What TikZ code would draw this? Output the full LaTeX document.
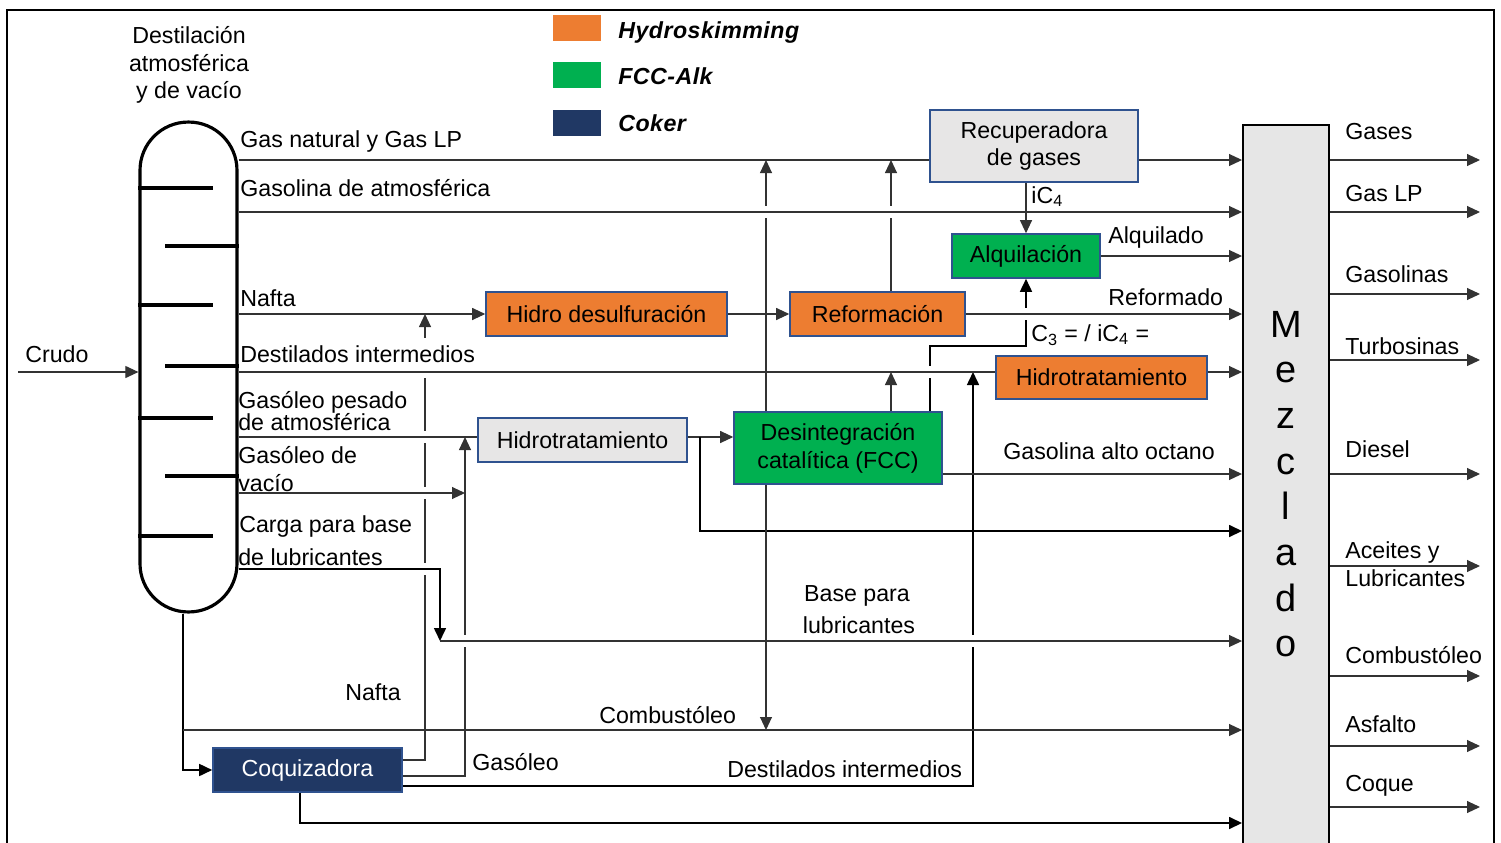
\documentclass[tikz,border=0pt]{standalone}
\usepackage{fontspec}
\setmainfont{Liberation Sans}
\usetikzlibrary{arrows.meta}
\definecolor{orng}{HTML}{ED7D31}
\definecolor{grn}{HTML}{00B050}
\definecolor{navy}{HTML}{203864}
\definecolor{pale}{HTML}{E7E6E6}
\definecolor{edge}{HTML}{2F528F}
\definecolor{mixgray}{HTML}{E6E6E6}
\begin{document}
\begin{tikzpicture}[x=0.02cm,y=-0.02cm,
  font=\fontsize{13.2}{15.8}\selectfont,
  unit/.style={draw=edge, line width=0.9pt, inner sep=0pt, align=center},
  ln/.style={draw=black!80, line width=0.65pt},
  lnk/.style={draw=black, line width=1pt},
  tip/.style={-{Triangle[length=7.4pt,width=6.8pt]}},
  lbl/.style={anchor=base west, inner sep=0pt},
  ctr/.style={anchor=base, inner sep=0pt},
  gap/.style={draw=white, line width=3pt},
  keybox/.style={minimum width=0.96cm, minimum height=0.52cm, inner sep=0pt},
  keytext/.style={lbl, font=\fontsize{13.2}{15.8}\selectfont\bfseries\itshape\addfontfeature{LetterSpace=2}},
]
\useasboundingbox (0,0) rectangle (1501,842);
\fill[white] (0,0) rectangle (1501,842);
\draw[line width=1.1pt] (7,860) -- (7,10) -- (1494,10) -- (1494,860);

% ---- legend ----
\node[keybox, fill=orng] (keyH) at (577,28) {};
\node[keybox, fill=grn]  (keyF) at (577,75) {};
\node[keybox, fill=navy] (keyC) at (577,123) {};
\node[keytext] (keyHt) at (618,38) {Hydroskimming};
\node[keytext] (keyFt) at (618,84) {FCC-Alk};
\node[keytext] (keyCt) at (618,131) {Coker};

% ---- distillation column ----
\node[draw, line width=1.8pt, rounded corners=0.965cm, minimum width=1.94cm,
      minimum height=9.8cm, inner sep=0pt] (col) at (188.5,367) {};
\draw[line width=1.8pt] (col.west |- 0,188) -- ++(75,0);
\draw[line width=1.8pt] (col.east |- 0,246) -- ++(-74,0);
\draw[line width=1.8pt] (col.west |- 0,305) -- ++(75,0);
\draw[line width=1.8pt] (col.east |- 0,366) -- ++(-74,0);
\draw[line width=1.8pt] (col.west |- 0,418) -- ++(75,0);
\draw[line width=1.8pt] (col.east |- 0,476) -- ++(-74,0);
\draw[line width=1.8pt] (col.west |- 0,536) -- ++(75,0);
\node[ctr] (tcolA) at (189,43) {Destilación};
\node[ctr] (tcolB) at (189,71) {atmosférica};
\node[ctr] (tcolC) at (189,98) {y de vacío};

% ---- process units ----
\node[unit, fill=pale, minimum width=4.16cm, minimum height=1.44cm] (rec) at (1034,146)
  {Recuperadora\\de gases};
\node[unit, fill=grn, minimum width=2.96cm, minimum height=0.88cm] (alq) at (1026,256) {Alquilación};
\node[unit, fill=orng, minimum width=4.82cm, minimum height=0.88cm] (hds) at (606.5,314) {Hidro desulfuración};
\node[unit, fill=orng, minimum width=3.5cm, minimum height=0.88cm] (ref) at (877.5,314) {Reformación};
\node[unit, fill=orng, minimum width=4.22cm, minimum height=0.86cm] (hto) at (1101.5,377.5) {Hidrotratamiento};
\node[unit, fill=pale, minimum width=4.18cm, minimum height=0.88cm] (htg) at (582.5,440) {Hidrotratamiento};
\node[unit, fill=grn, minimum width=4.16cm, minimum height=1.44cm] (fcc) at (838,448)
  {Desintegración\\catalítica (FCC)};
\node[unit, fill=navy, text=white, minimum width=3.78cm, minimum height=0.88cm] (coq) at (307.5,770) {Coquizadora};
\node[draw, line width=1.1pt, fill=mixgray, minimum width=1.72cm, minimum height=14.7cm,
      inner sep=0pt] (mez) at (1286,492.5) {};
\foreach \ch [count=\i from 0] in {M,e,z,c,l,a,d,o}
  \node[ctr, font=\fontsize{21.6}{24}\selectfont] (mz\i) at (1286,{337+45.7*\i}) {\ch};

% ---- free ends of connectors ----
\coordinate (crin) at (18,372);
\coordinate (gasup1) at (766,160);
\coordinate (gasup2) at (891,160);
\coordinate (cmbdn) at (766,730);
\coordinate (lco) at (891,372);
\coordinate (cknaf) at (425,314);
\coordinate (ckgas) at (465,437);
\coordinate (ckdi) at (973,372);
\coordinate (gvac) at (465,493);
\coordinate (blub) at (440,641);
\coordinate (loopA) at (700,437);
\coordinate (cmbA) at (183,730);
\coordinate (c3) at (930,346);

% ---- streams that are crossed with a break ----
\draw[ln,tip] (coq.east |- 0,760) -| (cknaf);
\draw[ln,tip] (coq.east |- 0,776) -| (ckgas);
\draw[lnk,tip] (coq.east |- 0,786) -| (ckdi);
\draw[ln,tip] (fcc.north -| gasup1) -- (gasup1);
\draw[ln,tip] (ref.north -| gasup2) -- (gasup2);
\draw[lnk,tip] (fcc.north -| c3) -- (c3) -| (alq.south);

% breaks at the crossings
\draw[gap] (425,338) -- (425,378);
\draw[gap] (425,431) -- (425,443);
\draw[gap] (425,487) -- (425,499);
\draw[gap] (425,563) -- (425,575);
\draw[gap] (465,635) -- (465,647);
\draw[gap] (973,635) -- (973,647);
\draw[gap] (930,366) -- (930,378);
\draw[gap] (1026,308) -- (1026,320);
\draw[gap] (766,206) -- (766,218);
\draw[gap] (891,206) -- (891,218);

% ---- horizontal streams ----
\draw[ln] (col.east |- 0,160) -- (rec.west |- 0,160);
\draw[ln,tip] (rec.east |- 0,160) -- (mez.west |- 0,160);
\draw[ln,tip] (col.east |- 0,212) -- (mez.west |- 0,212);
\draw[ln,tip] (col.east |- 0,314) -- (hds.west);
\draw[ln,tip] (hds.east) -- (ref.west);
\draw[ln,tip] (ref.east) -- (mez.west |- ref.east);
\draw[ln] (col.east |- 0,372) -- (hto.west |- 0,372);
\draw[ln,tip] (hto.east |- 0,372) -- (mez.west |- 0,372);
\draw[ln] (col.east |- 0,437) -- (htg.west |- 0,437);
\draw[ln,tip] (htg.east |- 0,437) -- (fcc.west |- 0,437);
\draw[lnk,tip] (loopA) |- (mez.west |- 0,531);
\draw[ln,tip] (col.east |- 0,493) -- (gvac);
\draw[lnk,tip] (col.east |- 0,569) -| (blub);
\draw[ln,tip] (blub) -- (mez.west |- blub);
\draw[ln,tip] (fcc.east |- 0,474) -- (mez.west |- 0,474);

% ---- remaining streams ----
\draw[ln,tip] (alq.north |- rec.south) -- (alq.north);
\draw[ln,tip] (alq.east) -- (mez.west |- alq.east);
\draw[ln,tip] (fcc.north -| lco) -- (lco);
\draw[ln,tip] (fcc.south -| cmbdn) -- (cmbdn);
\draw[lnk,tip] (col.south -| cmbA) |- (coq.west);
\draw[ln,tip] (cmbA) -- (mez.west |- cmbA);
\draw[lnk,tip] (coq.south -| 300,0) |- (mez.west |- 0,823);
\draw[ln,tip] (crin) -- (col.west |- crin);

% ---- products ----
\foreach \yy/\nm in {160/a,212/b,294/c,360/d,474/e,566/f,676/g,746/h,807/i}{
  \coordinate (out\nm) at (1480,\yy);
  \draw[ln,tip] (mez.east |- out\nm) -- (out\nm);
}

% ---- stream labels ----
\node[lbl] (lCrudo) at (25,362) {Crudo};
\node[lbl] (lGN) at (240,147) {Gas natural y Gas LP};
\node[lbl] (lGA) at (240,196) {Gasolina de atmosférica};
\node[lbl] (lNa) at (240,306) {Nafta};
\node[lbl] (lDI) at (240,362) {Destilados intermedios};
\node[lbl] (lGPa) at (238,408) {Gasóleo pesado};
\node[lbl] (lGPb) at (238,430) {de atmosférica};
\node[lbl] (lGVa) at (238,463) {Gasóleo de};
\node[lbl] (lGVb) at (238,491) {vacío};
\node[lbl] (lCLa) at (239,532) {Carga para base};
\node[lbl] (lCLb) at (238,565) {de lubricantes};
\node[lbl] (liC) at (1031,203) {iC\textsubscript{4}};
\node[lbl] (lAlq) at (1108,243) {Alquilado};
\node[lbl] (lRef) at (1108,305) {Reformado};
\node[lbl] (lC3) at (1031,341) {C\textsubscript{3} = / iC\textsubscript{4} =};
\node[lbl] (lGAO) at (1003,459) {Gasolina alto octano};
\node[ctr] (lBLa) at (857,601) {Base para};
\node[ctr] (lBLb) at (859,633) {lubricantes};
\node[lbl] (lNc) at (345,700) {Nafta};
\node[lbl] (lCmb) at (599,723) {Combustóleo};
\node[lbl] (lGc) at (472,770) {Gasóleo};
\node[lbl] (lDIc) at (727,777) {Destilados intermedios};

\node[lbl] (pA) at (1345,139) {Gases};
\node[lbl] (pB) at (1345,201) {Gas LP};
\node[lbl] (pC) at (1345,282) {Gasolinas};
\node[lbl] (pD) at (1345,354) {Turbosinas};
\node[lbl] (pE) at (1345,457) {Diesel};
\node[lbl] (pF) at (1345,558) {Aceites y};
\node[lbl] (pG) at (1345,586) {Lubricantes};
\node[lbl] (pH) at (1345,663) {Combustóleo};
\node[lbl] (pI) at (1345,732) {Asfalto};
\node[lbl] (pJ) at (1345,791) {Coque};
\end{tikzpicture}
\end{document}
